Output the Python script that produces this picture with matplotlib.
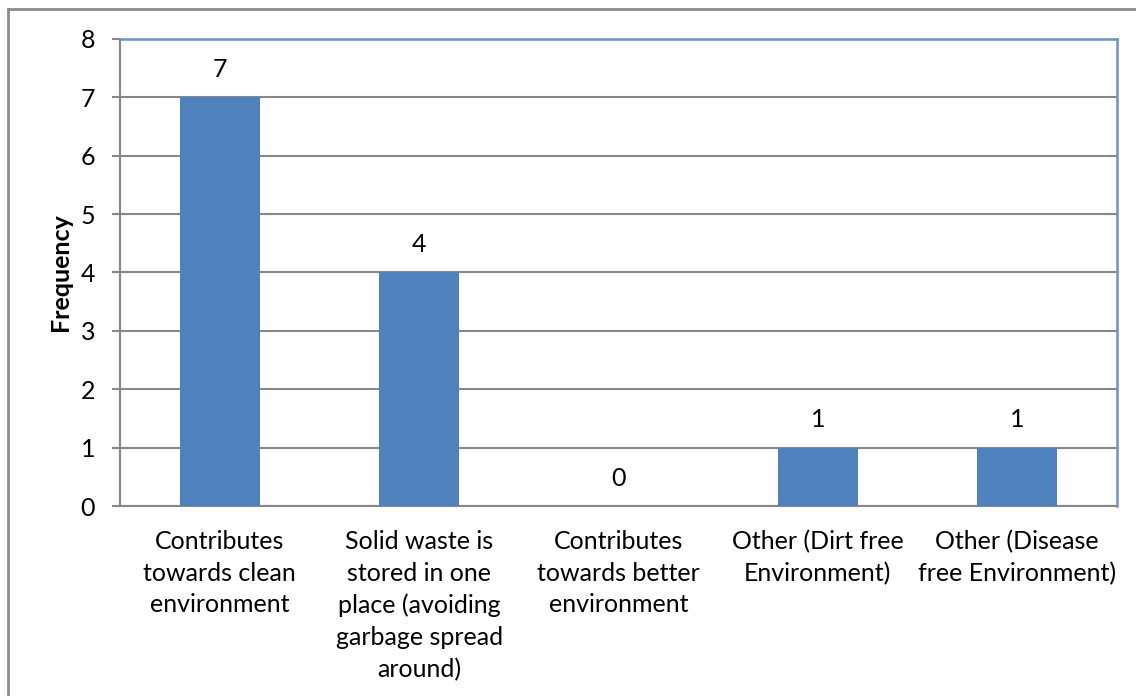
import matplotlib.pyplot as plt
from matplotlib.lines import Line2D

plt.rcParams['font.family'] = ['Lato', 'DejaVu Sans']

categories = [
    'Contributes\ntowards clean\nenvironment',
    'Solid waste is\nstored in one\nplace (avoiding\ngarbage spread\naround)',
    'Contributes\ntowards better\nenvironment',
    'Other (Dirt free\nEnvironment)',
    'Other (Disease\nfree Environment)',
]
frequency = [7, 4, 0, 1, 1]
y_ticks = [0, 1, 2, 3, 4, 5, 6, 7, 8]

W, H = 1136, 696
fig = plt.figure(figsize=(W / 100, H / 100), dpi=100)
ax = fig.add_axes([120 / W, (H - 506) / H, (1117 - 120) / W, (506 - 39) / H])

bar_color = '#4F81BD'
grid_color = '#878787'
fs = 18
x = list(range(len(categories)))
bars = ax.bar(x, frequency, width=0.4, color=bar_color, zorder=3)

for xi, v in zip(x, frequency):
    ax.annotate(str(v), (xi, v), xytext=(0, 20), textcoords='offset points',
                ha='center', va='center', fontsize=fs, color='black')

ax.set_xlim(-0.5, len(categories) - 0.5)
ax.set_ylim(0, 8)
ax.set_yticks(y_ticks)
ax.tick_params(axis='y', labelsize=fs, length=6, width=1.5, color=grid_color, pad=12)
ax.set_xticks(x)
ax.set_xticklabels(categories, fontsize=fs, linespacing=1.47, va='top')
ax.tick_params(axis='x', length=0, pad=17)
ax.yaxis.grid(True, color=grid_color, linewidth=1.5, zorder=0)
ax.set_axisbelow(True)

for side in ('left', 'bottom'):
    ax.spines[side].set_color(grid_color)
    ax.spines[side].set_linewidth(1.5)
for side in ('top', 'right'):
    ax.spines[side].set_color('#6A93C9')
    ax.spines[side].set_linewidth(1.8)

ax.set_ylabel('Frequency', fontsize=fs, fontweight='bold')
ax.yaxis.set_label_coords(-(120 - 72) / (1117 - 120), 0.5)

# chart frame (only left and top edges are visible in the crop)
fig.add_artist(Line2D([8 / W, 8 / W], [0, 1 - 9 / H], transform=fig.transFigure,
                      color='#8C8C8C', linewidth=2))
fig.add_artist(Line2D([8 / W, 1], [1 - 9 / H, 1 - 9 / H], transform=fig.transFigure,
                      color='#8C8C8C', linewidth=2))

fig.savefig('out.png', dpi=100)
